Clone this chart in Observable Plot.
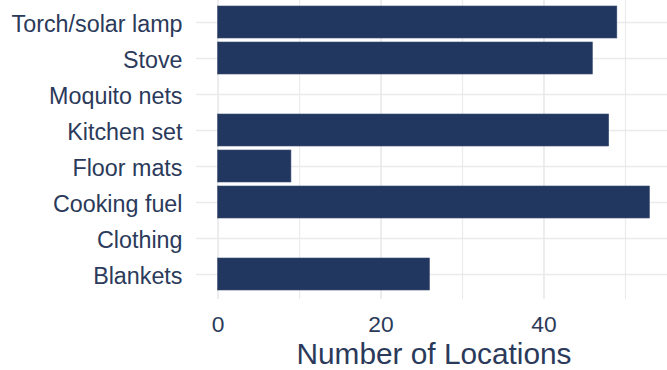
<!DOCTYPE html>
<html>
<head>
<meta charset="utf-8">
<script src="https://cdn.jsdelivr.net/npm/d3@7"></script>
<script src="https://cdn.jsdelivr.net/npm/@observablehq/plot@0.6"></script>
<style>
  html, body { margin: 0; padding: 0; background: #fff; }
</style>
</head>
<body>
<div id="chart"></div>
<script>
const categories = ["Torch/solar lamp", "Stove", "Moquito nets", "Kitchen set", "Floor mats", "Cooking fuel", "Clothing", "Blankets"];
const locations = [49, 46, 0, 48, 9, 53, 0, 26];
const majorTicks = [0, 20, 40];
const minorTicks = [10, 30, 50];
const xTitle = "Number of Locations";

const data = categories.map((c, i) => ({item: c, n: locations[i]}));
const textColor = "#2b3a5a";

const chart = Plot.plot({
  width: 667,
  height: 370,
  marginLeft: 196,
  marginRight: -4,
  marginTop: -3,
  marginBottom: 71,
  style: {background: "#fff", overflow: "visible", fontFamily: "'Liberation Sans', Arial, sans-serif"},
  x: {domain: [-2.65, 55.65], axis: null},
  y: {domain: categories, paddingInner: 0.1, paddingOuter: 0.15, axis: null},
  marks: [
    Plot.gridY({stroke: "#ebebeb", strokeOpacity: 1, strokeWidth: 1.6}),
    Plot.gridX(minorTicks, {stroke: "#ebebeb", strokeOpacity: 1, strokeWidth: 1.2}),
    Plot.gridX(majorTicks, {stroke: "#ebebeb", strokeOpacity: 1, strokeWidth: 1.8}),
    Plot.barX(data, {y: "item", x: "n", fill: "#22375f", stroke: "#3b4c74", strokeWidth: 0.6}),
    Plot.axisY({tickSize: 0, tickPadding: 14, fontSize: 23.3, fill: textColor, dy: 2, label: null}),
    Plot.axisX(majorTicks, {tickSize: 0, tickPadding: 16, fontSize: 22.8, fill: textColor, label: null}),
    Plot.text([xTitle], {frameAnchor: "bottom", lineAnchor: "bottom", dy: 64, fontSize: 29.8, fill: textColor})
  ]
});
document.getElementById("chart").appendChild(chart);
</script>
</body>
</html>
